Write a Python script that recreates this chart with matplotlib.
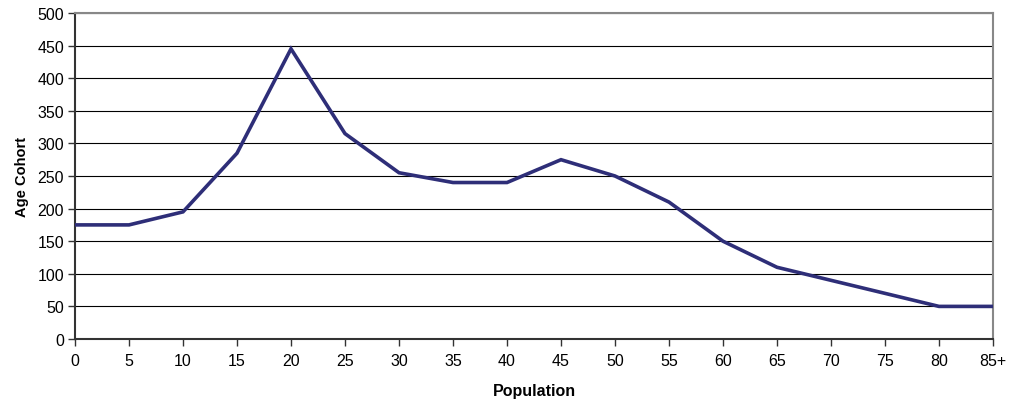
import matplotlib
matplotlib.use("Agg")
import matplotlib.pyplot as plt

categories = ["0", "5", "10", "15", "20", "25", "30", "35", "40", "45", "50",
              "55", "60", "65", "70", "75", "80", "85+"]
values = [175, 175, 195, 285, 445, 315, 255, 240, 240, 275, 250,
          210, 150, 110, 90, 70, 50, 50]
y_ticks = list(range(0, 501, 50))

plt.rcParams['font.family'] = ['Liberation Sans', 'DejaVu Sans']

fig = plt.figure(figsize=(10.11, 4.06), dpi=100)
ax = fig.add_axes([75/1011, 66/406, (993-75)/1011, (340-14)/406])

x = list(range(len(categories)))
ax.plot(x, values, color='#2e2e78', linewidth=2.6, solid_joinstyle='miter', zorder=3)

ax.set_xlim(0, len(categories) - 1)
ax.set_ylim(0, 500)
ax.set_xticks(x)
ax.set_xticklabels(categories)
ax.set_yticks(y_ticks)
ax.grid(axis='y', color='black', linewidth=0.8)
ax.tick_params(axis='both', labelsize=11.5, direction='out', length=5, width=1, color='#333333')
ax.tick_params(axis='x', pad=5)
ax.tick_params(axis='y', pad=3)

for s in ['left', 'bottom']:
    ax.spines[s].set_color('#333333')
    ax.spines[s].set_linewidth(1.5)
for s in ['top', 'right']:
    ax.spines[s].set_color('#888888')
    ax.spines[s].set_linewidth(1.5)

ax.set_xlabel('Population', fontsize=11.5, fontweight='bold', labelpad=11)
ax.set_ylabel('Age Cohort', fontsize=10.5, fontweight='bold', labelpad=6)

fig.savefig('out.png', dpi=100)
